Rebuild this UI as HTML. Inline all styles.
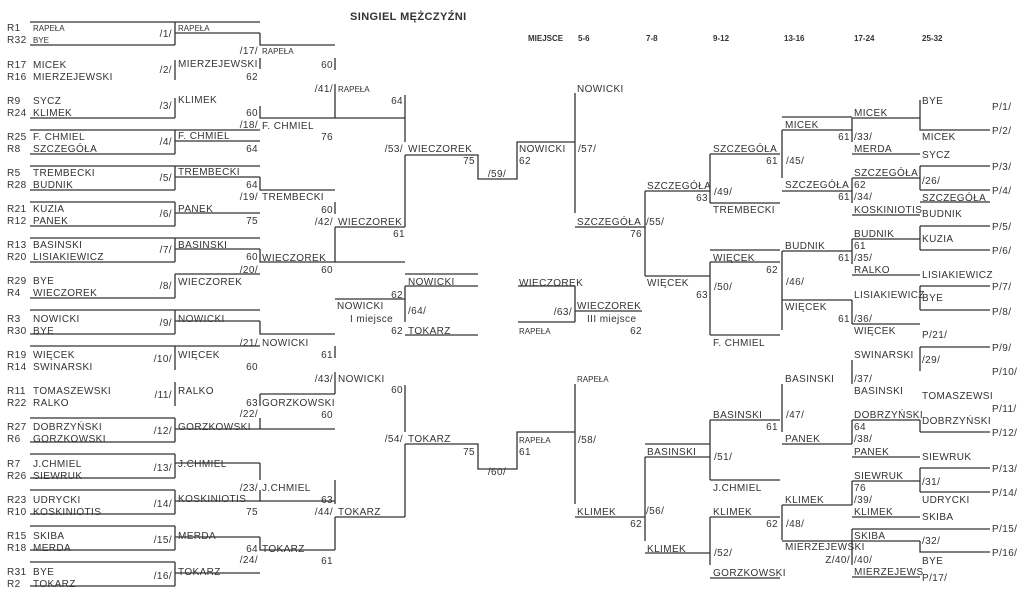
<!DOCTYPE html>
<html><head><meta charset="utf-8"><style>
body{margin:0;background:#fff}
svg{display:block}
text{font-family:"Liberation Sans",Arial,sans-serif;font-size:10px;fill:#333;letter-spacing:0.4px}
.s{font-size:8px;letter-spacing:0}
.r{text-anchor:end}
.c{text-anchor:middle}
.b{font-weight:bold;font-size:8px;letter-spacing:0}
.t{font-weight:bold;font-size:11px}
line,path{stroke:#333;stroke-width:1.3;fill:none}
</style></head><body>
<svg width="1024" height="601" viewBox="0 0 1024 601">
<text x="350" y="20" class="t">SINGIEL MĘŻCZYŹNI</text>
<text x="528" y="41" class="b">MIEJSCE</text><text x="578" y="41" class="b">5-6</text><text x="646" y="41" class="b">7-8</text><text x="713" y="41" class="b">9-12</text><text x="784" y="41" class="b">13-16</text><text x="854" y="41" class="b">17-24</text><text x="922" y="41" class="b">25-32</text>

<!-- Left round 1 lines -->
<g>
<path d="M30 22H260M175 33H260M30 45H175M175 22V45"/>
<path d="M175 60V80"/>
<path d="M30 118H175M175 98V118"/>
<path d="M30 130H260M175 141H260M30 154H175M175 130V154"/>
<path d="M30 166H260M175 177H260M30 190H175M175 166V190"/>
<path d="M30 202H175M175 213H260M30 226H175M175 202V226"/>
<path d="M30 238H260M175 249H260M30 262H175M175 238V262"/>
<path d="M175 274H260M30 298H175M175 274V298"/>
<path d="M30 310H260M175 321H260M30 334H175M175 310V334"/>
<path d="M30 346H260M175 346V370"/>
<path d="M175 382V406"/>
<path d="M30 418H175M175 429H260M30 442H175M175 418V442"/>
<path d="M30 454H175M175 463H260M30 478H175M175 454V478"/>
<path d="M30 490H175M175 501H260M30 514H175M175 490V514"/>
<path d="M30 526H175M175 537H260M30 550H175M175 526V550"/>
<path d="M30 562H175M175 573H260M30 586H175M175 562V586"/>
</g>
<!-- Left round 2 -->
<path d="M260 33V45H335M260 58V69"/>
<path d="M260 106V118H335"/>
<path d="M260 177V190H335"/>
<path d="M260 249V262H335"/>
<path d="M260 321V334H335"/>
<path d="M260 406V394M260 418V429M260 429H335M260 394H335"/>
<path d="M260 463V480M260 490V501H335"/>
<path d="M260 537V550H335"/>
<!-- Left round 3 -->
<path d="M335 58V70M335 84V118M335 118H405"/>
<path d="M335 202V214M335 227V262H405M335 227H405"/>
<path d="M335 346V358M335 372V394"/>
<path d="M335 480V504M335 517V550M335 517H405"/>
<!-- semis -->
<path d="M405 95V142M405 155V227M405 155H478V179H517V142H575"/>
<path d="M405 385V432M405 444V517M405 444H478V469H517V432H575"/>
<!-- final -->
<path d="M405 274H478M405 286H478M335 299H405M405 286V322M405 335H478"/>
<path d="M518 286H575M575 286V322M518 322H575M575 311H642"/>
<!-- 5-6, 7-8 -->
<path d="M575 93V213M575 227H645"/>
<path d="M575 384V504M575 517H645"/>
<path d="M645 191V276M645 191H710M645 276H710"/>
<path d="M645 444H710M645 457V541M645 457H710M645 553H710"/>
<!-- 9-12 -->
<path d="M710 154V203M710 154H780M710 203H780"/>
<path d="M710 250H780M710 262V335M710 262H780M710 335H780"/>
<path d="M710 420V480M710 420H780M710 480H780"/>
<path d="M710 517V565M710 517H780M710 578H780"/>
<!-- 13-16 -->
<path d="M782 117H852M782 130V178M782 130H852M782 191H852"/>
<path d="M782 251V330M782 251H852M782 300H852"/>
<path d="M782 384V432M782 444H852"/>
<path d="M782 505V540M782 505H852M782 541H852"/>
<!-- 17-24 -->
<path d="M852 118V142M852 118H920M852 154H920"/>
<path d="M852 178V203M852 178H920M852 215H920"/>
<path d="M852 239V264M852 239H920M852 275H920"/>
<path d="M852 300V324M852 324H920"/>
<path d="M852 360V384"/>
<path d="M852 420V444M852 420H920M852 457H920"/>
<path d="M852 481V505M852 481H920M852 517H920"/>
<path d="M852 529V565M852 529H990M852 541H920M852 577H920"/>
<!-- 25-32 -->
<path d="M920 100V130H990"/>
<path d="M920 166V190M920 166H990M920 190H990M920 202H990"/>
<path d="M920 226V250M920 226H990M920 250H990"/>
<path d="M920 286V310M920 286H990M920 310H990"/>
<path d="M920 347V371M920 347H990"/>
<path d="M920 420V432M920 432H990"/>
<path d="M920 468V492M920 468H990M920 492H990"/>
<path d="M920 541V552H990"/>

<!-- Round 1 labels -->
<g>
<text x="7" y="31">R1</text><text x="33" y="31" class="s">RAPEŁA</text><text x="7" y="43">R32</text><text x="33" y="43" class="s">BYE</text>
<text x="7" y="68">R17</text><text x="33" y="68">MICEK</text><text x="7" y="80">R16</text><text x="33" y="80">MIERZEJEWSKI</text>
<text x="7" y="104">R9</text><text x="33" y="104">SYCZ</text><text x="7" y="116">R24</text><text x="33" y="116">KLIMEK</text>
<text x="7" y="140">R25</text><text x="33" y="140">F. CHMIEL</text><text x="7" y="152">R8</text><text x="33" y="152">SZCZEGÓŁA</text>
<text x="7" y="176">R5</text><text x="33" y="176">TREMBECKI</text><text x="7" y="188">R28</text><text x="33" y="188">BUDNIK</text>
<text x="7" y="212">R21</text><text x="33" y="212">KUZIA</text><text x="7" y="224">R12</text><text x="33" y="224">PANEK</text>
<text x="7" y="248">R13</text><text x="33" y="248">BASINSKI</text><text x="7" y="260">R20</text><text x="33" y="260">LISIAKIEWICZ</text>
<text x="7" y="284">R29</text><text x="33" y="284">BYE</text><text x="7" y="296">R4</text><text x="33" y="296">WIECZOREK</text>
<text x="7" y="322">R3</text><text x="33" y="322">NOWICKI</text><text x="7" y="334">R30</text><text x="33" y="334">BYE</text>
<text x="7" y="358">R19</text><text x="33" y="358">WIĘCEK</text><text x="7" y="370">R14</text><text x="33" y="370">SWINARSKI</text>
<text x="7" y="394">R11</text><text x="33" y="394">TOMASZEWSKI</text><text x="7" y="406">R22</text><text x="33" y="406">RALKO</text>
<text x="7" y="430">R27</text><text x="33" y="430">DOBRZYŃSKI</text><text x="7" y="442">R6</text><text x="33" y="442">GORZKOWSKI</text>
<text x="7" y="467">R7</text><text x="33" y="467">J.CHMIEL</text><text x="7" y="479">R26</text><text x="33" y="479">SIEWRUK</text>
<text x="7" y="503">R23</text><text x="33" y="503">UDRYCKI</text><text x="7" y="515">R10</text><text x="33" y="515">KOSKINIOTIS</text>
<text x="7" y="539">R15</text><text x="33" y="539">SKIBA</text><text x="7" y="551">R18</text><text x="33" y="551">MERDA</text>
<text x="7" y="575">R31</text><text x="33" y="575">BYE</text><text x="7" y="587">R2</text><text x="33" y="587">TOKARZ</text>
</g>
<g class="r">
<text x="172" y="37" class="r">/1/</text><text x="172" y="73" class="r">/2/</text><text x="172" y="109" class="r">/3/</text><text x="172" y="145" class="r">/4/</text>
<text x="172" y="181" class="r">/5/</text><text x="172" y="217" class="r">/6/</text><text x="172" y="253" class="r">/7/</text><text x="172" y="289" class="r">/8/</text>
<text x="172" y="326" class="r">/9/</text><text x="172" y="362" class="r">/10/</text><text x="172" y="398" class="r">/11/</text><text x="172" y="434" class="r">/12/</text>
<text x="172" y="471" class="r">/13/</text><text x="172" y="507" class="r">/14/</text><text x="172" y="543" class="r">/15/</text><text x="172" y="579" class="r">/16/</text>
</g>
<!-- round 2 winners -->
<text x="178" y="31" class="s">RAPEŁA</text><text x="178" y="67">MIERZEJEWSKI</text><text x="178" y="103">KLIMEK</text><text x="178" y="139">F. CHMIEL</text>
<text x="178" y="175">TREMBECKI</text><text x="178" y="212">PANEK</text><text x="178" y="248">BASINSKI</text><text x="178" y="285">WIECZOREK</text>
<text x="178" y="322">NOWICKI</text><text x="178" y="358">WIĘCEK</text><text x="178" y="394">RALKO</text><text x="178" y="430">GORZKOWSKI</text>
<text x="178" y="467">J.CHMIEL</text><text x="178" y="502">KOSKINIOTIS</text><text x="178" y="539">MERDA</text><text x="178" y="575">TOKARZ</text>
<text x="258" y="80" class="r">62</text><text x="258" y="116" class="r">60</text><text x="258" y="152" class="r">64</text><text x="258" y="188" class="r">64</text>
<text x="258" y="224" class="r">75</text><text x="258" y="260" class="r">60</text><text x="258" y="370" class="r">60</text><text x="258" y="406" class="r">63</text>
<text x="258" y="515" class="r">75</text><text x="258" y="552" class="r">64</text>
<text x="258" y="54" class="r">/17/</text><text x="258" y="128" class="r">/18/</text><text x="258" y="200" class="r">/19/</text><text x="258" y="273" class="r">/20/</text>
<text x="258" y="346" class="r">/21/</text><text x="258" y="417" class="r">/22/</text><text x="258" y="491" class="r">/23/</text><text x="258" y="563" class="r">/24/</text>
<!-- round 3 -->
<text x="262" y="54" class="s">RAPEŁA</text><text x="262" y="129">F. CHMIEL</text><text x="262" y="200">TREMBECKI</text><text x="262" y="261">WIECZOREK</text>
<text x="262" y="346">NOWICKI</text><text x="262" y="406">GORZKOWSKI</text><text x="262" y="491">J.CHMIEL</text><text x="262" y="552">TOKARZ</text>
<text x="333" y="68" class="r">60</text><text x="333" y="140" class="r">76</text><text x="333" y="213" class="r">60</text><text x="333" y="273" class="r">60</text>
<text x="333" y="358" class="r">61</text><text x="333" y="418" class="r">60</text><text x="333" y="503" class="r">63</text><text x="333" y="564" class="r">61</text>
<text x="333" y="92" class="r">/41/</text><text x="338" y="92" class="s">RAPEŁA</text>
<text x="333" y="225" class="r">/42/</text><text x="338" y="225">WIECZOREK</text><text x="405" y="237" class="r">61</text>
<text x="333" y="382" class="r">/43/</text><text x="338" y="382">NOWICKI</text>
<text x="333" y="515" class="r">/44/</text><text x="338" y="515">TOKARZ</text>
<!-- semis / final -->
<text x="403" y="104" class="r">64</text><text x="403" y="152" class="r">/53/</text><text x="408" y="152">WIECZOREK</text><text x="475" y="164" class="r">75</text>
<text x="403" y="393" class="r">60</text><text x="403" y="442" class="r">/54/</text><text x="408" y="442">TOKARZ</text><text x="475" y="455" class="r">75</text>
<text x="497" y="177" class="c">/59/</text><text x="497" y="475" class="c">/60/</text>
<text x="403" y="298" class="r">62</text><text x="408" y="285">NOWICKI</text><text x="408" y="314">/64/</text><text x="408" y="334">TOKARZ</text><text x="403" y="334" class="r">62</text>
<text x="337" y="309">NOWICKI</text><text x="350" y="322">I miejsce</text>
<text x="519" y="152">NOWICKI</text><text x="519" y="164">62</text>
<text x="519" y="443" class="s">RAPEŁA</text><text x="519" y="455">61</text>
<text x="519" y="286">WIECZOREK</text><text x="519" y="334" class="s">RAPEŁA</text><text x="572" y="315" class="r">/63/</text>
<text x="577" y="309">WIECZOREK</text><text x="587" y="322">III miejsce</text><text x="642" y="334" class="r">62</text>
<text x="577" y="92">NOWICKI</text><text x="578" y="152">/57/</text><text x="577" y="225">SZCZEGÓŁA</text><text x="642" y="237" class="r">76</text>
<text x="577" y="382" class="s">RAPEŁA</text><text x="578" y="443">/58/</text><text x="577" y="515">KLIMEK</text><text x="642" y="527" class="r">62</text>
<text x="646" y="225">/55/</text><text x="647" y="189">SZCZEGÓŁA</text><text x="708" y="201" class="r">63</text><text x="647" y="286">WIĘCEK</text><text x="708" y="298" class="r">63</text>
<text x="646" y="514">/56/</text><text x="647" y="455">BASINSKI</text><text x="647" y="552">KLIMEK</text>
<!-- 9-12 -->
<text x="713" y="152">SZCZEGÓŁA</text><text x="778" y="164" class="r">61</text><text x="714" y="195">/49/</text><text x="713" y="213">TREMBECKI</text>
<text x="713" y="261">WIĘCEK</text><text x="778" y="273" class="r">62</text><text x="714" y="290">/50/</text><text x="713" y="346">F. CHMIEL</text>
<text x="713" y="418">BASINSKI</text><text x="778" y="430" class="r">61</text><text x="714" y="460">/51/</text><text x="713" y="491">J.CHMIEL</text>
<text x="713" y="515">KLIMEK</text><text x="778" y="527" class="r">62</text><text x="714" y="556">/52/</text><text x="713" y="576">GORZKOWSKI</text>
<!-- 13-16 -->
<text x="785" y="128">MICEK</text><text x="850" y="140" class="r">61</text><text x="786" y="164">/45/</text><text x="785" y="188">SZCZEGÓŁA</text><text x="850" y="200" class="r">61</text>
<text x="785" y="249">BUDNIK</text><text x="850" y="261" class="r">61</text><text x="786" y="285">/46/</text><text x="785" y="310">WIĘCEK</text><text x="850" y="322" class="r">61</text>
<text x="785" y="382">BASINSKI</text><text x="786" y="418">/47/</text><text x="785" y="442">PANEK</text>
<text x="785" y="503">KLIMEK</text><text x="786" y="527">/48/</text><text x="785" y="550">MIERZEJEWSKI</text><text x="850" y="563" class="r">Z/40/</text>
<!-- 17-24 -->
<text x="854" y="116">MICEK</text><text x="854" y="140">/33/</text><text x="854" y="152">MERDA</text>
<text x="854" y="176">SZCZEGÓŁA</text><text x="854" y="188">62</text><text x="854" y="200">/34/</text><text x="854" y="213">KOSKINIOTIS</text>
<text x="854" y="237">BUDNIK</text><text x="854" y="249">61</text><text x="854" y="261">/35/</text><text x="854" y="273">RALKO</text>
<text x="854" y="298">LISIAKIEWICZ</text><text x="854" y="322">/36/</text><text x="854" y="334">WIĘCEK</text>
<text x="854" y="358">SWINARSKI</text><text x="854" y="382">/37/</text><text x="854" y="394">BASINSKI</text>
<text x="854" y="418">DOBRZYŃSKI</text><text x="854" y="430">64</text><text x="854" y="442">/38/</text><text x="854" y="455">PANEK</text>
<text x="854" y="479">SIEWRUK</text><text x="854" y="491">76</text><text x="854" y="503">/39/</text><text x="854" y="515">KLIMEK</text>
<text x="854" y="539">SKIBA</text><text x="854" y="563">/40/</text><text x="854" y="575">MIERZEJEWS</text>
<!-- 25-32 -->
<text x="922" y="104">BYE</text><text x="922" y="140">MICEK</text><text x="922" y="158">SYCZ</text><text x="922" y="184">/26/</text>
<text x="922" y="201">SZCZEGÓŁA</text><text x="922" y="217">BUDNIK</text><text x="922" y="242">KUZIA</text><text x="922" y="278">LISIAKIEWICZ</text>
<text x="922" y="301">BYE</text><text x="922" y="338">P/21/</text><text x="922" y="363">/29/</text><text x="922" y="399">TOMASZEWSI</text>
<text x="922" y="424">DOBRZYŃSKI</text><text x="922" y="460">SIEWRUK</text><text x="922" y="485">/31/</text><text x="922" y="503">UDRYCKI</text>
<text x="922" y="520">SKIBA</text><text x="922" y="544">/32/</text><text x="922" y="564">BYE</text><text x="922" y="581">P/17/</text>
<text x="992" y="110">P/1/</text><text x="992" y="134">P/2/</text><text x="992" y="170">P/3/</text><text x="992" y="194">P/4/</text>
<text x="992" y="230">P/5/</text><text x="992" y="254">P/6/</text><text x="992" y="290">P/7/</text><text x="992" y="315">P/8/</text>
<text x="992" y="351">P/9/</text><text x="992" y="375">P/10/</text><text x="992" y="412">P/11/</text><text x="992" y="436">P/12/</text>
<text x="992" y="472">P/13/</text><text x="992" y="496">P/14/</text><text x="992" y="532">P/15/</text><text x="992" y="556">P/16/</text>
</svg>
</body></html>
